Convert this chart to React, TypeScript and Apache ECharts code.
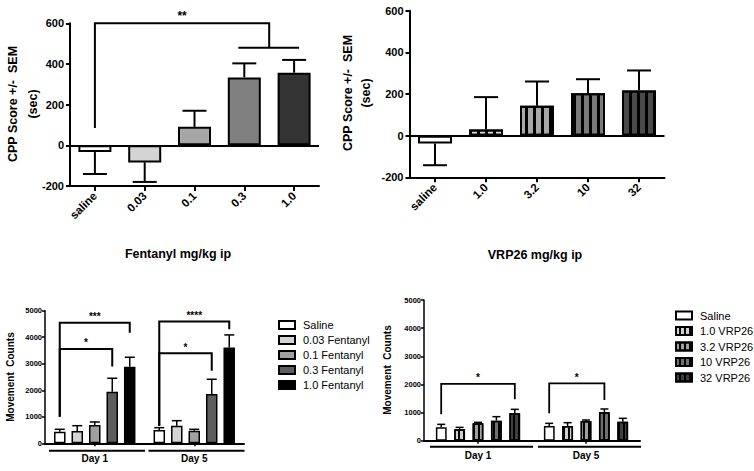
import React, { useEffect, useRef } from 'react';
import * as echarts from 'echarts';

// ---------- Data ----------
const fentCats = ['saline', '0.03', '0.1', '0.3', '1.0'];
const fentMean = [-33, -84, 91, 334, 357];
const fentErr = [-141, -180, 170, 403, 420];

const vrpCats = ['saline', '1.0', '3.2', '10', '32'];
const vrpMean = [-38, 29, 144, 204, 217];
const vrpErr = [-142, 185, 260, 271, 313];

const days = ['Day 1', 'Day 5'];
const fentGroups = ['Saline', '0.03 Fentanyl', '0.1 Fentanyl', '0.3 Fentanyl', '1.0 Fentanyl'];
const fentMoveMean = [[438, 502], [464, 664], [690, 475], [1947, 1860], [2890, 3608]];
const fentMoveErr = [[528, 589], [664, 853], [804, 528], [2453, 2415], [3245, 4087]];

const vrpGroups = ['Saline', '1.0 VRP26', '3.2 VRP26', '10 VRP26', '32 VRP26'];
const vrpMoveMean = [[474, 522], [403, 522], [617, 700], [712, 1008], [973, 676]];
const vrpMoveErr = [[581, 617], [474, 640], [652, 735], [854, 1127], [1115, 795]];

// significance brackets: [category, offsetFrom, offsetTo, yFrom, yTop, yTo]
const sigA = [[0, 0, 3.5, 85, 600, 480], [0, 2.88, 4.1, 480, 480, 480]];
const sigALabels = ['**', ''];
const sigC = [[0, -2, 2, 1000, 4550, 4170], [0, -2, 1, 1000, 3560, 2900], [1, -2, 2, 650, 4590, 4300], [1, -2, 1, 650, 3400, 2740]];
const sigCLabels = ['***', '*', '****', '*'];
const sigD = [[0, -2, 2, 937, 2017, 1471], [1, -2, 1, 973, 2040, 1447]];
const sigDLabels = ['*', '*'];

// ---------- Styles ----------
const FONT = 'Liberation Sans, Arial, Helvetica, sans-serif';
const fentColors = ['#ffffff', '#d4d4d4', '#a6a6a6', '#808080', '#333333'];
const vrpColors = ['#ffffff', '#d8d8d8', '#a8a8a8', '#7a7a7a', '#4a4a4a'];
const fentMoveColors = ['#ffffff', '#d4d4d4', '#a0a0a0', '#5e5e5e', '#000000'];
const vrpMoveColors = ['#ffffff', '#d0d0d0', '#a0a0a0', '#707070', '#404040'];

const stripe = (w: number, gap: number) => ({
  symbol: 'rect',
  symbolSize: 1,
  color: '#000',
  dashArrayX: [1, 0],
  dashArrayY: [w, gap],
  rotation: Math.PI / 2,
});

function errSeries(rows: number[][], axis: number, spacing: number, capW: number, lw: number) {
  return {
    type: 'custom',
    xAxisIndex: axis,
    yAxisIndex: axis,
    silent: true,
    z: 3,
    data: rows,
    encode: { x: 0, y: [1, 2] },
    renderItem: (params: any, api: any) => {
      const cat = api.value(0);
      const p1 = api.coord([cat, api.value(1)]);
      const p2 = api.coord([cat, api.value(2)]);
      const x = p1[0] + (api.value(3) - 2) * spacing;
      const st = { stroke: '#000', lineWidth: lw };
      return {
        type: 'group',
        children: [
          { type: 'line', shape: { x1: x, y1: p1[1], x2: x, y2: p2[1] }, style: st },
          { type: 'line', shape: { x1: x - capW / 2, y1: p2[1], x2: x + capW / 2, y2: p2[1] }, style: st },
        ],
      };
    },
  };
}

function bracketSeries(rows: number[][], labels: string[], axis: number, unitFn: (api: any) => number, lw: number, fs: number) {
  return {
    type: 'custom',
    xAxisIndex: axis,
    yAxisIndex: axis,
    silent: true,
    z: 6,
    data: rows,
    encode: { x: 0, y: [3, 4, 5] },
    renderItem: (params: any, api: any) => {
      const cat = api.value(0);
      const unit = unitFn(api);
      const base = api.coord([cat, 0])[0];
      const x1 = base + api.value(1) * unit;
      const x2 = base + api.value(2) * unit;
      const yF = api.coord([cat, api.value(3)])[1];
      const yT = api.coord([cat, api.value(4)])[1];
      const yE = api.coord([cat, api.value(5)])[1];
      const children: any[] = [
        {
          type: 'polyline',
          shape: { points: [[x1, yF], [x1, yT], [x2, yT], [x2, yE]] },
          style: { stroke: '#000', lineWidth: lw, fill: 'none' },
        },
      ];
      const lab = labels[params.dataIndex];
      if (lab) {
        children.push({
          type: 'text',
          style: {
            text: lab, x: (x1 + x2) / 2, y: yT - 1, align: 'center', verticalAlign: 'bottom',
            fontSize: fs, fontWeight: 'bold', fontFamily: FONT, fill: '#000',
          },
        });
      }
      return { type: 'group', children };
    },
  };
}

function dayLineSeries(axis: number, padL: number, padR: number, dy: number) {
  return {
    type: 'custom',
    xAxisIndex: axis,
    yAxisIndex: axis,
    silent: true,
    data: days.map((_, i) => [i, 0]),
    encode: { x: 0, y: 1 },
    renderItem: (params: any, api: any) => {
      const p = api.coord([api.value(0), 0]);
      const w = api.size([1, 0])[0];
      return {
        type: 'line',
        shape: { x1: p[0] - w / 2 + padL, y1: p[1] + dy, x2: p[0] + w / 2 + padR, y2: p[1] + dy },
        style: { stroke: '#000', lineWidth: 2 },
      };
    },
  };
}

const axisLineStyle = (w: number) => ({ show: true, onZero: false, lineStyle: { color: '#000', width: w } });
const plain = (v: number) => String(v);

function cppYAxis(idx: number) {
  return {
    type: 'value', gridIndex: idx, min: -200, max: 600, interval: 200,
    splitLine: { show: false },
    axisLine: axisLineStyle(2),
    axisTick: { show: true, length: 4, lineStyle: { color: '#000', width: 2 } },
    axisLabel: { color: '#000', fontSize: 11, fontWeight: 'bold', fontFamily: FONT, margin: 6, formatter: plain },
  };
}
function cppXAxis(idx: number, cats: string[]) {
  return {
    type: 'category', gridIndex: idx, data: cats, position: 'bottom',
    axisLine: axisLineStyle(2),
    axisTick: { show: true, alignWithLabel: true, length: 5, lineStyle: { color: '#000', width: 2 } },
    axisLabel: { color: '#000', fontSize: 11.5, fontWeight: 'bold', fontFamily: FONT, rotate: 45, margin: 8, interval: 0 },
  };
}
function moveYAxis(idx: number) {
  return {
    type: 'value', gridIndex: idx, min: 0, max: 5000, interval: 1000,
    splitLine: { show: false },
    axisLine: axisLineStyle(1.5),
    axisTick: { show: true, length: 3, lineStyle: { color: '#000', width: 1.5 } },
    axisLabel: { color: '#000', fontSize: 7.5, fontWeight: 'bold', fontFamily: FONT, margin: 3, formatter: plain },
  };
}
function moveXAxis(idx: number) {
  return {
    type: 'category', gridIndex: idx, data: days,
    axisLine: axisLineStyle(2),
    axisTick: { show: true, alignWithLabel: true, length: 3, lineStyle: { color: '#000', width: 1.5 } },
    axisLabel: { color: '#000', fontSize: 10, fontWeight: 'bold', fontFamily: FONT, margin: 10, interval: 0 },
  };
}

const zeroLine = {
  silent: true,
  symbol: ['none', 'none'],
  label: { show: false },
  lineStyle: { color: '#000', width: 2, type: 'solid' },
  data: [{ yAxis: 0 }],
};

function buildOption() {
  const series: any[] = [];

  // Panel A
  series.push({
    type: 'bar', xAxisIndex: 0, yAxisIndex: 0, barWidth: 33,
    data: fentMean.map((v, i) => ({ value: v, itemStyle: { color: fentColors[i], borderColor: '#000', borderWidth: 2 } })),
    markLine: zeroLine,
  });
  series.push(errSeries(fentMean.map((m, i) => [i, m, fentErr[i], 2]), 0, 0, 24, 2));
  series.push(bracketSeries(sigA, sigALabels, 0, (api) => api.size([1, 0])[0], 2, 12));

  // Panel B
  series.push({
    type: 'bar', xAxisIndex: 1, yAxisIndex: 1, barWidth: 34,
    data: vrpMean.map((v, i) => ({
      value: v,
      itemStyle: { color: vrpColors[i], borderColor: '#000', borderWidth: 2, decal: i === 0 ? undefined : stripe(2.3, 4.4) },
    })),
    markLine: zeroLine,
  });
  series.push(errSeries(vrpMean.map((m, i) => [i, m, vrpErr[i], 2]), 1, 0, 24, 2));

  // Panel C
  const spC = 17.5;
  fentGroups.forEach((name, g) => {
    series.push({
      type: 'bar', name, xAxisIndex: 2, yAxisIndex: 2, barWidth: 11.5, barGap: '52%',
      data: fentMoveMean[g],
      itemStyle: { color: fentMoveColors[g], borderColor: '#000', borderWidth: 1.5 },
    });
  });
  const rowsC: number[][] = [];
  fentGroups.forEach((_, g) => days.forEach((__, d) => rowsC.push([d, fentMoveMean[g][d], fentMoveErr[g][d], g])));
  series.push(errSeries(rowsC, 2, spC, 10, 1.5));
  series.push(bracketSeries(sigC, sigCLabels, 2, () => spC, 2, 10));
  series.push(dayLineSeries(2, 4, 0.5, 7.4));

  // Panel D
  const spD = 18.4;
  vrpGroups.forEach((name, g) => {
    series.push({
      type: 'bar', name, xAxisIndex: 3, yAxisIndex: 3, barWidth: 10.8, barGap: '70%',
      data: vrpMoveMean[g],
      itemStyle: { color: vrpMoveColors[g], borderColor: '#000', borderWidth: 1.5, decal: g === 0 ? undefined : stripe(1.8, 2.6) },
    });
  });
  const rowsD: number[][] = [];
  vrpGroups.forEach((_, g) => days.forEach((__, d) => rowsD.push([d, vrpMoveMean[g][d], vrpMoveErr[g][d], g])));
  series.push(errSeries(rowsD, 3, spD, 8, 1.5));
  series.push(bracketSeries(sigD, sigDLabels, 3, () => spD, 1.8, 10));
  series.push(dayLineSeries(3, 6, 1, 6));

  const txt = (text: string, x: number, y: number, fs: number, rot: boolean) => ({
    type: 'text', x, y, rotation: rot ? Math.PI / 2 : 0, silent: true,
    style: { text, align: 'center', verticalAlign: 'middle', fontSize: fs, fontWeight: 'bold', fontFamily: FONT, fill: '#000' },
  });

  const legendBase = {
    orient: 'vertical', itemWidth: 16, itemHeight: 8, icon: 'rect', selectedMode: false,
    textStyle: { color: '#000', fontSize: 11, fontFamily: FONT, lineHeight: 13, padding: [0, 0, 0, 3] },
  };

  return {
    animation: false,
    backgroundColor: '#ffffff',
    grid: [
      { left: 70, top: 23.3, width: 249, height: 162.7 },
      { left: 409.5, top: 10.7, width: 255, height: 166.6 },
      { left: 45, top: 310.7, width: 199, height: 132.6 },
      { left: 424, top: 300, width: 216, height: 140.7 },
    ],
    xAxis: [cppXAxis(0, fentCats), cppXAxis(1, vrpCats), moveXAxis(2), moveXAxis(3)],
    yAxis: [cppYAxis(0), cppYAxis(1), moveYAxis(2), moveYAxis(3)],
    legend: [
      { ...legendBase, data: fentGroups, left: 273, top: 313.5, itemGap: 2 },
      { ...legendBase, data: vrpGroups, left: 670, top: 304, itemGap: 2.5 },
    ],
    graphic: [
      txt('CPP Score +/-  SEM', 13, 104, 12.5, true),
      txt('(sec)', 33, 104, 12.5, true),
      txt('CPP Score +/-  SEM', 347.5, 93, 12.5, true),
      txt('(sec)', 366, 93, 12.5, true),
      txt('Fentanyl mg/kg ip', 178, 254, 12.5, false),
      txt('VRP26 mg/kg ip', 535, 255, 12.5, false),
      txt('Movement  Counts', 10, 377, 10, true),
      txt('Movement  Counts', 387, 370, 10, true),
    ],
    series,
  };
}

export default function App() {
  const ref = useRef<HTMLDivElement>(null);
  useEffect(() => {
    if (!ref.current) return;
    const chart = echarts.init(ref.current, undefined, { renderer: 'svg' });
    chart.setOption(buildOption() as any);
    return () => chart.dispose();
  }, []);
  return (
    <div
      ref={ref}
      style={{ position: 'absolute', left: 0, top: 0, width: 754, height: 471, background: '#fff' }}
    />
  );
}
